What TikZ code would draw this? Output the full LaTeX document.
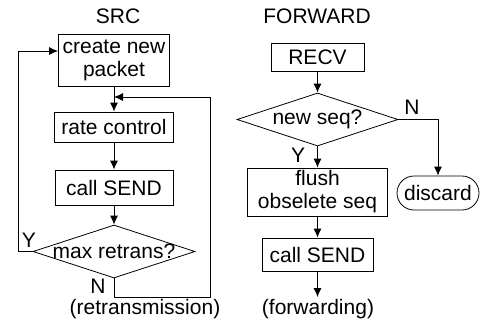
\documentclass[tikz,border=0pt]{standalone}
\usepackage{fontspec}
\setmainfont{Liberation Sans}
\usetikzlibrary{arrows.meta,shapes.geometric,calc}
\begin{document}
\begin{tikzpicture}[x=1pt,y=-1pt,
  font=\fontsize{21}{23}\selectfont,
  line width=0.8pt,
  box/.style={draw,rectangle,inner sep=0pt,align=center},
  dec/.style={draw,diamond,inner sep=0pt},
  arr/.style={-{Latex[length=9pt,width=8pt]}},
  lbl/.style={inner sep=0pt}]
\useasboundingbox (0,0) rectangle (487,325);
% SRC column
\node[lbl] (src) at (118,16) {SRC};
\node[box,minimum width=111pt,minimum height=52pt] (create) at (114,60) {create new\\packet};
\node[box,minimum width=119pt,minimum height=30pt] (rate) at (114,127) {rate control};
\node[box,minimum width=118pt,minimum height=35pt] (send1) at (114,187.5) {call SEND};
\node[dec,minimum width=162pt,minimum height=53pt,label=center:{max retrans?}] (max) at (114,251.5) {};
\node[lbl] (y1) at (29,240) {Y};
\node[lbl] (n1) at (98,286) {N};
\node[lbl] (retr) at (145,309.5) {(retransmission)};
\coordinate (fb) at (114,97);
\coordinate (cl) at (58,51);
\draw[arr] (create) -- (rate);
\draw[arr] (rate) -- (send1);
\draw[arr] (send1) -- (max);
\draw[arr] (max.south) -- (114,297) -- (210,297) -- (210,97) -- (fb);
\draw[arr] (max.west) -- (18,251.5) -- (18,51) -- (cl);
% FORWARD column
\node[lbl] (fwdt) at (317,16) {FORWARD};
\node[box,minimum width=93pt,minimum height=28pt] (recv) at (317.5,57) {RECV};
\node[dec,minimum width=161pt,minimum height=53pt,label=center:{new seq?}] (newseq) at (317.5,119.5) {};
\node[box,minimum width=140pt,minimum height=48pt] (flush) at (317.5,192) {flush\\obselete seq};
\node[box,minimum width=111pt,minimum height=33pt] (send2) at (317.5,254.5) {call SEND};
\node[draw,rectangle,rounded corners=17pt,inner sep=0pt,minimum width=82pt,minimum height=34pt] (discard) at (438,193) {discard};
\node[lbl] (n2) at (412,107) {N};
\node[lbl] (y2) at (298,155) {Y};
\node[lbl] (fwd) at (318,309.5) {(forwarding)};
\coordinate (fe) at (317.5,297);
\draw[arr] (recv) -- (newseq);
\draw[arr] (newseq) -- (flush);
\draw[arr] (flush) -- (send2);
\draw[arr] (send2) -- (fe);
\draw[arr] (newseq.east) -- (discard.north |- newseq.east) -- (discard.north);
\end{tikzpicture}
\end{document}
